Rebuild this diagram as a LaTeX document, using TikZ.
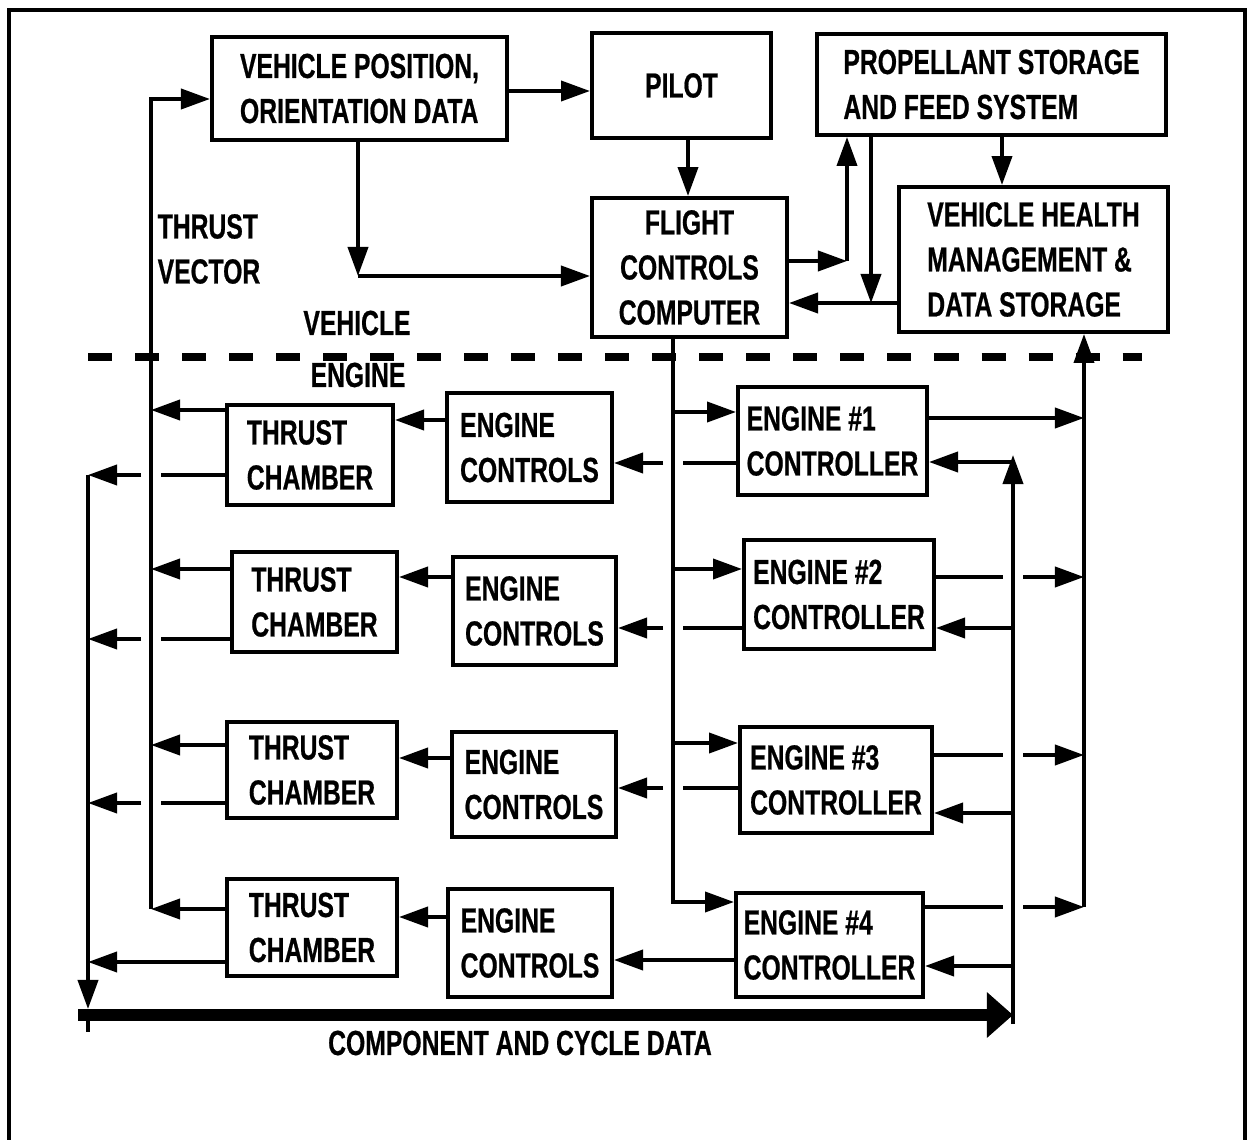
\documentclass[tikz,border=0pt]{standalone}
\usepackage{fontspec}
\newfontfamily\diafont{Liberation Sans}[FakeStretch=0.71,FakeBold=0.6]
\usetikzlibrary{arrows.meta}

\begin{document}
\begin{tikzpicture}[x=0.01cm,y=-0.01cm,
    blk/.style={draw,line width=1.1pt,inner sep=0pt,align=left,
        font=\diafont\bfseries\fontsize{9.9}{12.8}\selectfont},
    lbl/.style={inner sep=0pt,align=left,
        font=\diafont\bfseries\fontsize{9.9}{12.8}\selectfont},
    ln/.style={line width=1.1pt},
    arr/.style={line width=1.1pt,-{Triangle[length=2.9mm,width=2mm]}}]
    \useasboundingbox (0,0) rectangle (1254,1140);
    \draw[line width=1.1pt] (9,1140)--(9,10)--(1245,10)--(1245,1140);

    % vehicle side
    \node[blk,minimum width=2.95cm,minimum height=1.03cm] (vp) at (359.5,88.5) {VEHICLE POSITION,\\ORIENTATION DATA};
    \node[blk,minimum width=1.79cm,minimum height=1.05cm] (pilot) at (681.5,85.5) {PILOT};
    \node[blk,align=center,minimum width=1.95cm,minimum height=1.39cm] (fcc) at (689.5,267.5) {FLIGHT\\CONTROLS\\COMPUTER};
    \node[blk,minimum width=3.49cm,minimum height=1.01cm] (prop) at (991.5,84.5) {PROPELLANT STORAGE\\AND FEED SYSTEM};
    \node[blk,minimum width=2.69cm,minimum height=1.45cm] (vhm) at (1033.5,259.5) {VEHICLE HEALTH\\MANAGEMENT \&\\DATA STORAGE};
    \node[lbl,anchor=west] (tvlab) at (157,249) {THRUST\\VECTOR};
    \node[lbl] (vehlab) at (357,323) {VEHICLE};
    \node[lbl] (englab) at (358,375) {ENGINE};

    % engine side
    \node[blk,minimum width=1.66cm,minimum height=1.00cm] (tc1) at (310,455) {THRUST\\CHAMBER};
    \node[blk,minimum width=1.65cm,minimum height=1.09cm] (ec1) at (529.5,447.5) {ENGINE\\CONTROLS};
    \node[blk,minimum width=1.89cm,minimum height=1.08cm] (ct1) at (832.5,441) {ENGINE \#1\\CONTROLLER};
    \node[blk,minimum width=1.65cm,minimum height=1.00cm] (tc2) at (314.5,602) {THRUST\\CHAMBER};
    \node[blk,minimum width=1.63cm,minimum height=1.08cm] (ec2) at (534.5,611) {ENGINE\\CONTROLS};
    \node[blk,minimum width=1.90cm,minimum height=1.09cm] (ct2) at (839,594.5) {ENGINE \#2\\CONTROLLER};
    \node[blk,minimum width=1.70cm,minimum height=0.96cm] (tc3) at (312,770) {THRUST\\CHAMBER};
    \node[blk,minimum width=1.64cm,minimum height=1.05cm] (ec3) at (534,784.5) {ENGINE\\CONTROLS};
    \node[blk,minimum width=1.92cm,minimum height=1.06cm] (ct3) at (836,780) {ENGINE \#3\\CONTROLLER};
    \node[blk,minimum width=1.70cm,minimum height=0.97cm] (tc4) at (312,927.5) {THRUST\\CHAMBER};
    \node[blk,minimum width=1.64cm,minimum height=1.08cm] (ec4) at (530,943) {ENGINE\\CONTROLS};
    \node[blk,minimum width=1.87cm,minimum height=1.04cm] (ct4) at (829.5,945) {ENGINE \#4\\CONTROLLER};
    \node[lbl] (cdlab) at (520,1043) {COMPONENT AND CYCLE DATA};

    % bus lines
    \coordinate (tv) at (151,0);
    \coordinate (ret) at (88,0);
    \coordinate (fcl) at (673,0);
    \coordinate (fbk) at (1013,0);
    \coordinate (hl) at (1084,0);
    \coordinate (vpc) at (358,276);
    \coordinate (fpc) at (847,261);
    \coordinate (pfc) at (871,303);

    \draw [line width=2.4pt,dash pattern=on 0.24cm off 0.23cm] (88,357)--(1142,357);

    % top connectors
    \draw [arr] (tv |- 0,909)--(tv |- 0,99)--(vp.west |- 0,99);
    \draw [arr] (vp.east |- 0,91)--(pilot.west |- 0,91);
    \draw [arr] (pilot.south -| 688,0)--(fcc.north -| 688,0);
    \draw [arr] (vp.south -| vpc)--(vpc);
    \draw [arr] (vpc)--(fcc.west |- vpc);
    \draw [arr] (fcc.east |- fpc)--(fpc);
    \draw [arr] (fpc)--(prop.south -| fpc);
    \draw [arr] (prop.south -| pfc)--(pfc);
    \draw [arr] (vhm.west |- pfc)--(fcc.east |- pfc);
    \draw [arr] (prop.south -| 1002,0)--(vhm.north -| 1002,0);

    % long verticals
    \draw [arr] (fcc.south -| fcl)--(fcl |- 0,902)--(ct4.west |- 0,902);
    \draw [arr] (hl |- 0,907)--(vhm.south -| hl);
    \draw [arr] (fbk |- 0,1024)--(fbk |- 0,455);
    \draw [arr] (ret |- 0,475)--(ret |- 0,1009);
    \draw [ln] (ret |- 0,1009)--(ret |- 0,1032);
    \draw [line width=3.4pt,-{Triangle[length=2.6mm,width=4.4mm]}] (78,1015)--(fbk |- 0,1015);

    % engine 1
    \draw [arr] (tc1.west |- 0,410)--(tv |- 0,410);
    \draw [ln] (tc1.west |- 0,475)--(161,475);
    \draw [arr] (141,475)--(ret |- 0,475);
    \draw [arr] (ec1.west |- 0,420)--(tc1.east |- 0,420);
    \draw [ln] (ct1.west |- 0,463)--(683,463);
    \draw [arr] (663,463)--(ec1.east |- 0,463);
    \draw [arr] (fcl |- 0,412)--(ct1.west |- 0,412);
    \draw [arr] (ct1.east |- 0,418)--(hl |- 0,418);
    \draw [arr] (fbk |- 0,462)--(ct1.east |- 0,462);

    % engine 2
    \draw [arr] (tc2.west |- 0,569)--(tv |- 0,569);
    \draw [ln] (tc2.west |- 0,639)--(161,639);
    \draw [arr] (141,639)--(ret |- 0,639);
    \draw [arr] (ec2.west |- 0,577)--(tc2.east |- 0,577);
    \draw [ln] (ct2.west |- 0,628)--(683,628);
    \draw [arr] (663,628)--(ec2.east |- 0,628);
    \draw [arr] (fcl |- 0,569)--(ct2.west |- 0,569);
    \draw [ln] (ct2.east |- 0,577)--(1003,577);
    \draw [arr] (1023,577)--(hl |- 0,577);
    \draw [arr] (fbk |- 0,628)--(ct2.east |- 0,628);

    % engine 3
    \draw [arr] (tc3.west |- 0,745)--(tv |- 0,745);
    \draw [ln] (tc3.west |- 0,803)--(161,803);
    \draw [arr] (141,803)--(ret |- 0,803);
    \draw [arr] (ec3.west |- 0,758)--(tc3.east |- 0,758);
    \draw [ln] (ct3.west |- 0,788)--(683,788);
    \draw [arr] (663,788)--(ec3.east |- 0,788);
    \draw [arr] (fcl |- 0,743)--(ct3.west |- 0,743);
    \draw [ln] (ct3.east |- 0,755)--(1003,755);
    \draw [arr] (1023,755)--(hl |- 0,755);
    \draw [arr] (fbk |- 0,813)--(ct3.east |- 0,813);

    % engine 4
    \draw [arr] (tc4.west |- 0,909)--(tv |- 0,909);
    \draw [arr] (tc4.west |- 0,962)--(ret |- 0,962);
    \draw [arr] (ec4.west |- 0,917)--(tc4.east |- 0,917);
    \draw [arr] (ct4.west |- 0,960)--(ec4.east |- 0,960);
    \draw [ln] (ct4.east |- 0,907)--(1003,907);
    \draw [arr] (1023,907)--(hl |- 0,907);
    \draw [arr] (fbk |- 0,966)--(ct4.east |- 0,966);
\end{tikzpicture}
\end{document}
